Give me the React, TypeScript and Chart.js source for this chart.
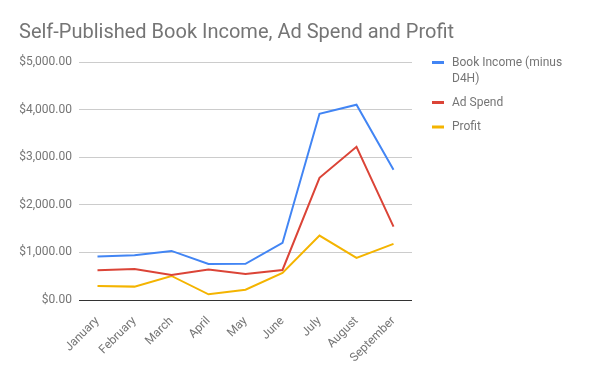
import React, { useEffect, useRef } from "react";
import { Chart, registerables } from "chart.js";

Chart.register(...registerables);

const months = ["January", "February", "March", "April", "May", "June", "July", "August", "September"];
const bookIncome = [912, 940, 1031, 757, 760, 1199, 3913, 4102, 2735];
const adSpend = [624, 652, 526, 638, 547, 631, 2567, 3219, 1543];
const profit = [295, 281, 505, 119, 217, 568, 1353, 884, 1178];
const yTicks = [0, 1000, 2000, 3000, 4000, 5000];

const seriesNames = ["Book Income (minus D4H)", "Ad Spend", "Profit"];
const legendLines = [["Book Income (minus", "D4H)"], ["Ad Spend"], ["Profit"]];
const colors = ["#4285F4", "#DB4437", "#F4B400"];

const FONT = "Roboto, 'Noto Sans', sans-serif";
const TEXT = "#757575";

const extras = {
  id: "extras",
  afterDraw(chart: any) {
    const ctx = chart.ctx;
    ctx.save();
    ctx.fillStyle = TEXT;
    ctx.font = `20px ${FONT}`;
    ctx.textBaseline = "alphabetic";
    ctx.textAlign = "left";
    ctx.fillText("Self-Published Book Income, Ad Spend and Profit", 19, 38);

    ctx.font = `12px ${FONT}`;
    ctx.textBaseline = "middle";
    const starts = [62.5, 102.5, 127];
    chart.data.datasets.forEach((ds: any, i: number) => {
      const y = starts[i];
      ctx.fillStyle = ds.borderColor;
      ctx.fillRect(432, y - 1.5, 12, 3);
      ctx.fillStyle = TEXT;
      legendLines[i].forEach((line, j) => {
        ctx.fillText(line, 452, y + j * 16);
      });
    });
    ctx.restore();
  },
};

export default function App() {
  const ref = useRef<HTMLCanvasElement>(null);
  useEffect(() => {
    document.body.style.margin = "0";
    const chart = new Chart(ref.current!, {
      type: "line",
      data: {
        labels: months,
        datasets: [bookIncome, adSpend, profit].map((d, i) => ({
          label: seriesNames[i],
          data: d,
          borderColor: colors[i],
          backgroundColor: colors[i],
          borderWidth: 2,
          pointRadius: 0,
          tension: 0,
          fill: false,
        })),
      },
      options: {
        animation: false,
        responsive: false,
        maintainAspectRatio: false,
        layout: { padding: { top: 62, right: 188, bottom: 0, left: 0 } },
        plugins: { legend: { display: false }, title: { display: false }, tooltip: { enabled: false } },
        scales: {
          x: {
            offset: true,
            grid: { display: false },
            border: { display: false },
            ticks: {
              color: TEXT,
              font: { family: FONT, size: 12 },
              minRotation: 45,
              maxRotation: 45,
              autoSkip: false,
              padding: 6,
            },
            afterFit(scale: any) {
              scale.height = 71;
            },
          },
          y: {
            min: 0,
            max: 5000,
            afterBuildTicks(scale: any) {
              scale.ticks = yTicks.map((v) => ({ value: v }));
            },
            grid: {
              color: (c: any) => (c.tick && c.tick.value === 0 ? "#333333" : "#cccccc"),
              lineWidth: 1,
              drawTicks: false,
            },
            border: { display: false },
            ticks: {
              color: TEXT,
              font: { family: FONT, size: 12 },
              padding: 7,
              callback: (v: any) =>
                "$" + Number(v).toLocaleString("en-US", { minimumFractionDigits: 2, maximumFractionDigits: 2 }),
            },
            afterFit(scale: any) {
              scale.width = 79;
            },
          },
        },
      },
      plugins: [extras],
    });
    return () => chart.destroy();
  }, []);
  return (
    <div style={{ position: "absolute", left: 0, top: 0, width: 600, height: 371 }}>
      <canvas ref={ref} width={600} height={371} style={{ width: 600, height: 371 }} />
    </div>
  );
}
